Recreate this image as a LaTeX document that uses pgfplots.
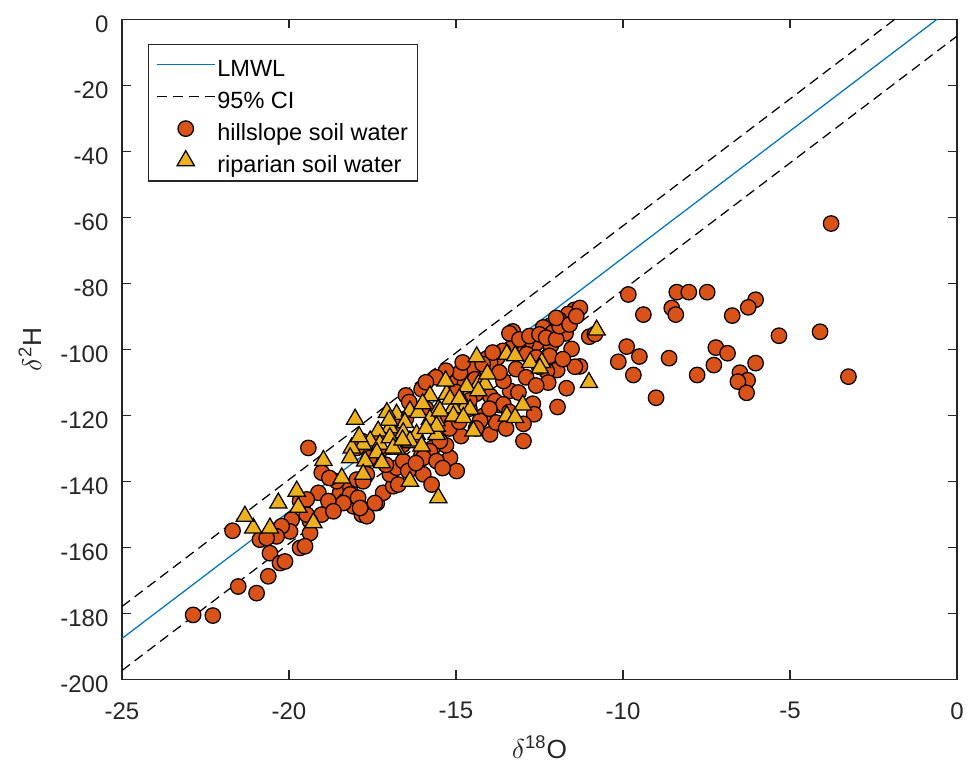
\documentclass[border=0pt]{standalone}
\usepackage{fontspec}
\setmainfont{Liberation Sans}
\usepackage{pgfplots}
\usepackage{pgfplotstable}
\pgfplotsset{compat=1.18}
\definecolor{hcol}{RGB}{217,83,25}
\definecolor{rcol}{RGB}{237,177,32}
\definecolor{lcol}{RGB}{0,114,189}
\definecolor{axc}{gray}{0.15}
\pgfplotsset{
  lineleg/.style={legend image code/.code={\draw[##1] (0pt,0pt) -- (23.2pt,0pt);}},
  markleg/.style={legend image code/.code={\draw[##1,mark repeat=2,mark phase=2] plot coordinates {(0pt,0pt) (11.6pt,0pt) (23.2pt,0pt)};}},
}

\pgfplotstableread{
x y
-3.77 -61.9
-9.84 -83.4
-8.39 -82.7
-8.03 -82.7
-7.48 -82.7
-6.03 -85.0
-6.25 -87.3
-8.54 -87.5
-8.42 -89.5
-9.39 -89.5
-6.73 -89.8
-5.33 -95.9
-4.10 -94.7
-3.25 -108.3
-9.89 -99.2
-9.51 -102.2
-10.14 -103.8
-9.69 -107.8
-8.62 -102.7
-9.01 -114.7
-7.78 -107.8
-7.22 -99.5
-6.87 -101.2
-7.28 -104.8
-6.03 -104.2
-6.50 -107.1
-6.27 -109.4
-6.56 -109.8
-6.30 -113.2
-11.01 -96.2
-10.84 -95.4
-11.29 -105.2
-11.46 -88.1
-11.64 -89.3
-11.91 -91.1
-12.19 -92.9
-12.39 -93.4
-13.30 -94.6
-11.81 -94.2
-12.10 -94.9
-11.72 -95.2
-12.60 -98.2
-12.90 -97.9
-12.16 -98.9
-11.54 -99.9
-13.13 -99.5
-13.38 -99.9
-11.44 -105.3
-11.97 -106.3
-12.28 -106.7
-12.51 -105.3
-11.69 -111.8
-12.24 -110.1
-11.96 -117.5
-12.98 -127.8
-12.70 -116.5
-12.66 -119.7
-12.98 -122.6
-13.68 -116.9
-13.38 -112.6
-13.98 -114.1
-13.98 -125.8
-13.80 -122.2
-14.18 -120.2
-14.28 -121.7
-14.85 -126.3
-14.58 -106.5
-14.98 -109.6
-13.76 -102.5
-14.06 -102.7
-16.03 -112.1
-16.03 -131.9
-15.18 -132.9
-14.98 -136.9
-15.70 -129.9
-15.30 -129.1
-13.40 -95.2
-11.29 -87.5
-12.88 -101.5
-13.98 -104.0
-14.48 -106.0
-14.43 -109.1
-13.58 -109.6
-13.13 -113.1
-13.83 -115.7
-13.58 -116.7
-15.18 -109.6
-14.88 -107.1
-15.43 -120.7
-15.48 -127.8
-15.78 -130.9
-17.82 -127.8
-17.97 -129.9
-19.42 -129.9
-19.02 -137.4
-19.12 -143.5
-18.77 -148.6
-19.02 -150.1
-19.37 -152.1
-19.92 -151.6
-19.97 -155.2
-20.22 -153.6
-20.37 -156.7
-19.37 -155.7
-18.47 -143.5
-18.32 -146.0
-18.07 -147.6
-17.72 -148.6
-17.82 -150.1
-17.37 -146.6
-17.18 -143.5
-16.88 -141.5
-18.17 -141.5
-17.97 -139.5
-18.57 -140.0
-17.67 -137.9
-16.98 -137.9
-16.78 -135.9
-21.69 -155.0
-20.57 -161.8
-20.27 -164.8
-20.12 -164.3
-20.62 -168.8
-21.52 -171.9
-20.97 -173.9
-20.87 -157.7
-20.67 -157.2
-19.67 -160.2
-19.52 -159.7
-19.67 -146.0
-19.47 -150.1
-18.82 -146.0
-22.87 -180.5
-22.28 -180.7
-16.58 -133.9
-16.43 -136.9
-17.78 -140.0
-18.17 -144.0
-18.37 -146.6
-17.93 -145.0
-17.43 -146.6
-16.73 -141.0
-15.98 -132.9
-15.58 -133.9
-15.98 -137.9
-15.73 -141.0
-17.67 -150.6
-17.87 -148.1
-18.67 -149.1
-19.47 -145.5
-18.79 -139.0
-16.5 -121
-16.9 -124
-15.9 -118
-16.2 -127
-17.3 -131
-16.6 -129
-15.2 -124
-14.6 -118
-15.0 -113
-16.5 -114
-13.1 -97.0
-12.8 -96.0
-12.5 -95.5
-12.3 -96.5
-12.0 -97.0
-11.9 -93.0
-12.0 -90.5
-11.6 -92.5
-11.4 -90.0
-13.6 -100.5
-13.9 -101.0
-14.2 -104.5
-14.8 -104.0
-15.3 -106.5
-15.6 -108.5
-15.9 -110.0
-12.2 -102.0
-12.6 -102.5
-11.8 -103.0
-13.2 -106.0
-12.9 -108.5
-12.6 -111.0
-13.7 -107.0
-14.4 -113.5
-14.6 -115.5
-13.4 -119.0
-14.0 -118.0
-14.9 -122.0
-14.4 -124.0
-13.5 -124.0
-16.4 -116.0
-16.9 -121.5
-17.3 -126.0
-17.6 -133.0
-17.1 -135.0
-16.2 -134.5
-15.4 -136.0
}\hill

\pgfplotstableread{
x y
-10.79 -94.2
-11.02 -110.1
-13.48 -101.5
-13.23 -102.0
-12.43 -104.0
-12.78 -104.0
-12.49 -105.7
-13.00 -116.9
-13.48 -120.2
-13.23 -120.7
-14.48 -124.8
-14.73 -117.2
-15.08 -117.7
-15.28 -113.6
-15.18 -115.1
-14.33 -110.6
-14.13 -110.6
-14.06 -107.5
-14.38 -102.3
-15.31 -109.6
-14.68 -111.4
-15.78 -114.1
-15.53 -118.2
-15.58 -121.7
-15.58 -125.8
-16.38 -128.3
-14.33 -112.6
-18.02 -121.2
-14.58 -118.2
-16.78 -119.7
-16.38 -118.7
-16.13 -119.2
-17.07 -119.2
-15.78 -121.2
-15.48 -118.7
-15.08 -120.2
-15.58 -123.3
-14.78 -120.7
-16.53 -122.2
-16.98 -123.8
-17.33 -124.8
-16.58 -125.3
-16.18 -125.8
-17.57 -127.8
-17.28 -128.8
-17.78 -128.8
-16.98 -126.8
-16.38 -127.8
-16.03 -129.3
-18.12 -129.9
-17.37 -131.4
-16.78 -130.3
-18.17 -132.9
-18.97 -133.7
-19.77 -143.0
-20.32 -146.6
-19.72 -147.9
-21.07 -154.2
-20.57 -154.2
-19.27 -152.6
-18.42 -139.0
-17.72 -133.9
-17.78 -137.9
-17.22 -134.4
-16.88 -129.9
-21.32 -150.6
-15.53 -145.0
-16.38 -140.0
-17.0 -121.5
-16.6 -127.5
-17.9 -126.5
-15.9 -124.0
-14.9 -115.0
-16.0 -116.5
}\ripa

\begin{document}
\begin{tikzpicture}
\begin{axis}[
  scale only axis, width=334pt, height=264pt,
  xmin=-25, xmax=0, ymin=-200, ymax=0,
  xtick={-25,-20,...,0}, ytick={-200,-180,...,0},
  xticklabels={-25,-20,-15,-10,-5,0},
  yticklabels={-200,-180,-160,-140,-120,-100,-80,-60,-40,-20,0},
  tick align=inside, major tick length=3.6pt,
  axis line style={axc, line width=0.5pt},
  tick style={axc, line width=0.5pt},
  ticklabel style={font=\fontsize{9.6}{11}\selectfont, text=axc},
  yticklabel style={xshift=-1.9pt, yshift=-1.9pt},
  xticklabel style={yshift=-5.7pt},
  every axis y label/.style={at={(axis description cs:0,0.5)}, xshift=-36.8pt, anchor=center, rotate=90, font=\fontsize{10.5}{12}\selectfont, text=axc},
  every axis x label/.style={at={(axis description cs:0.5,0)}, yshift=-27pt, anchor=center, font=\fontsize{10.5}{12}\selectfont, text=axc},
  xlabel={$\delta$\textsuperscript{18}O},
  ylabel={$\delta$\textsuperscript{2}H},
  legend cell align=left,
  legend style={at={(axis description cs:0,1)}, anchor=north west, xshift=10.4pt, yshift=-9.8pt,
    draw=axc, line width=0.5pt, fill=white, font=\fontsize{9.4}{11}\selectfont,
    inner xsep=3pt, inner ysep=2.5pt, row sep=1.6pt,
    nodes={inner sep=0.8pt, text height=9.6pt, text depth=0pt},
    /tikz/every even column/.append style={column sep=0.7pt}},
]
\addplot[lcol, line width=0.5pt, lineleg]
  coordinates {(-25,-187.65) (-0.598,0)};
\addlegendentry{LMWL}
\addplot[black, line width=0.5pt, dash pattern=on 4pt off 2.4pt, lineleg]
  coordinates {(-25,-177.95) (-1.86,0)};
\addlegendentry{95\% CI}
\addplot[black, line width=0.5pt, dash pattern=on 4pt off 2.4pt, forget plot]
  coordinates {(-25,-197.35) (0,-5.1)};
\addplot[only marks, mark=*, mark size=3.1pt,
  mark options={fill=hcol, draw=black, line width=0.5pt}, markleg]
  table[x=x,y=y] {\hill};
\addlegendentry{hillslope soil water}
\addplot[only marks, mark=triangle*, mark size=4pt,
  mark options={fill=rcol, draw=black, line width=0.5pt}, markleg]
  table[x=x,y=y] {\ripa};
\addlegendentry{riparian soil water}
\end{axis}
\pgfresetboundingbox
\path[use as bounding box] ([shift={(-48.8pt,-36.2pt)}]current axis.south west) rectangle ([shift={(4.8pt,7.7pt)}]current axis.north east);
\end{tikzpicture}
\end{document}
